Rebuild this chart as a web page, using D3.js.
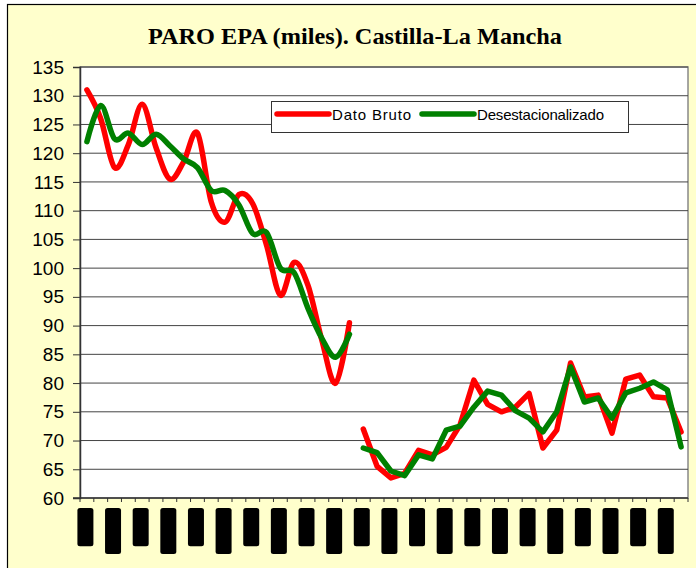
<!DOCTYPE html>
<html>
<head>
<meta charset="utf-8">
<script src="https://cdn.jsdelivr.net/npm/d3@7/dist/d3.min.js"></script>
<style>
  html, body { margin: 0; padding: 0; background: #fff; }
  svg { display: block; }
</style>
</head>
<body>
<script>
// quarters 1996-2006, labels shown every second quarter
var years = [ '96', '97', '98', '99', '00', '01', '02', '03', '04', '05', '06' ];
var quarters = [ 'I', 'II', 'III', 'IV' ];
var categories = [];
years.forEach( function( y ){
    quarters.forEach( function( q ){ categories.push( q + '-' + y ); } );
});

// old EPA series (smoothed in the original)
var brutoAntigua = [ 131, 126, 117.5, 121.5, 128.5, 121, 115.5, 118.5, 123.5, 111.5,
                     108, 112.8, 111.2, 104, 95.3, 101, 97, 87.5, 80, 90.5 ];
var desestAntigua = [ 122, 128.3, 122.5, 123.5, 121.5, 123.3, 121.3, 119, 117.5, 113.5,
                      113.5, 111, 106, 106.2, 100, 99.2, 93, 87.8, 84.5, 88.5 ];
// new EPA series
var brutoNueva = [ 72, 65.5, 63.5, 64.3, 68.3, 67.5, 68.8, 72.7, 80.5, 76.3, 75, 75.8,
                   78.2, 68.7, 71.8, 83.5, 77.6, 77.9, 71.3, 80.7, 81.4, 77.6, 77.4, 71.5 ];
var desestNueva = [ 68.7, 67.9, 64.7, 63.9, 67.5, 66.8, 71.8, 72.5, 75.8, 78.6, 77.9, 75.2,
                    73.9, 71.5, 75, 82.8, 76.7, 77.4, 73.9, 78.3, 79.1, 80.2, 78.8, 68.9 ];
var yTicks = d3.range( 60, 136, 5 );
var seriesNames = [ 'Dato Bruto', 'Desestacionalizado' ];
var seriesColors = [ '#ff0000', '#008000' ];

var width = 696, height = 568;
var plot = { left: 80, right: 688, top: 67, bottom: 498 };

var svg = d3.select( 'body' ).append( 'svg' )
    .attr( 'width', width ).attr( 'height', height );

// chart area
svg.append( 'rect' )
    .attr( 'x', 7.5 ).attr( 'y', 4.5 )
    .attr( 'width', width + 10 ).attr( 'height', height + 10 )
    .attr( 'fill', '#ffffcc' ).attr( 'stroke', '#000' ).attr( 'stroke-width', 1.2 );

svg.append( 'text' )
    .attr( 'x', 355 ).attr( 'y', 44 )
    .attr( 'text-anchor', 'middle' )
    .attr( 'font-family', '"Liberation Serif", "Times New Roman", serif' )
    .attr( 'font-weight', 'bold' ).attr( 'font-size', 24 )
    .attr( 'textLength', 414 ).attr( 'lengthAdjust', 'spacingAndGlyphs' )
    .text( 'PARO EPA (miles). Castilla-La Mancha' );

var x = d3.scaleBand().domain( categories ).range( [ plot.left, plot.right ] );
var y = d3.scaleLinear().domain( [ 60, 135 ] ).range( [ plot.bottom, plot.top ] );
var cx = function( i ){ return x( categories[i] ) + x.bandwidth() / 2; };

// plot area
svg.append( 'rect' )
    .attr( 'x', plot.left ).attr( 'y', plot.top )
    .attr( 'width', plot.right - plot.left ).attr( 'height', plot.bottom - plot.top )
    .attr( 'fill', '#fff' ).attr( 'stroke', '#888' ).attr( 'stroke-width', 1.5 );

svg.append( 'g' ).selectAll( 'line' )
    .data( yTicks.slice( 1 ) )
    .enter().append( 'line' )
    .attr( 'x1', plot.left ).attr( 'x2', plot.right )
    .attr( 'y1', function( d ){ return y( d ); } )
    .attr( 'y2', function( d ){ return y( d ); } )
    .attr( 'stroke', '#444' ).attr( 'stroke-width', 1 );

var yAxis = svg.append( 'g' )
    .attr( 'transform', 'translate(' + plot.left + ',0)' )
    .call( d3.axisLeft( y ).tickValues( yTicks ).tickSize( 7 ).tickPadding( 9 ) );
yAxis.selectAll( 'text' )
    .attr( 'font-family', '"Liberation Sans", Arial, sans-serif' )
    .attr( 'font-size', 19 ).attr( 'fill', '#000' );
yAxis.selectAll( 'line' ).attr( 'stroke', '#333' );
yAxis.select( '.domain' ).attr( 'stroke', '#333' ).attr( 'stroke-width', 1.5 );

// category axis: ticks between categories
var xTickPos = categories.map( function( c ){ return x( c ); } ).concat( [ plot.right ] );
svg.append( 'g' ).selectAll( 'line' )
    .data( xTickPos )
    .enter().append( 'line' )
    .attr( 'x1', function( d ){ return d; } ).attr( 'x2', function( d ){ return d; } )
    .attr( 'y1', plot.bottom ).attr( 'y2', plot.bottom + 4 )
    .attr( 'stroke', '#333' );
svg.append( 'line' )
    .attr( 'x1', plot.left - 7 ).attr( 'x2', plot.right )
    .attr( 'y1', plot.bottom ).attr( 'y2', plot.bottom )
    .attr( 'stroke', '#333' ).attr( 'stroke-width', 1.5 );

// rotated labels, drawn as black blocks like the original
var labelIdx = d3.range( 0, categories.length, 2 );
var labels = svg.append( 'g' ).selectAll( 'g' )
    .data( labelIdx )
    .enter().append( 'g' )
    .attr( 'transform', function( i ){ return 'translate(' + ( cx( i ) - 1.5 ) + ',508)'; } );
labels.append( 'text' )
    .attr( 'transform', 'rotate(-90)' )
    .attr( 'x', -7 ).attr( 'y', 5 )
    .attr( 'text-anchor', 'end' )
    .attr( 'font-family', '"Liberation Sans", Arial, sans-serif' )
    .attr( 'font-size', 14 ).attr( 'fill', '#000' )
    .text( function( i ){ return categories[i]; } );
labels.each( function(){
    var g = d3.select( this );
    var len = g.select( 'text' ).node().getComputedTextLength();
    g.insert( 'rect', 'text' )
        .attr( 'x', -8 ).attr( 'y', 0 )
        .attr( 'width', 16 ).attr( 'height', len + 14 )
        .attr( 'rx', 2.5 )
        .attr( 'fill', '#000' );
});

// series
var smooth = d3.line()
    .x( function( d ){ return cx( d.i ); } )
    .y( function( d ){ return y( d.v ); } )
    .curve( d3.curveCatmullRom.alpha( 0 ) );
var straight = d3.line()
    .x( function( d ){ return cx( d.i ); } )
    .y( function( d ){ return y( d.v ); } );

function pts( values, offset ){
    return values.map( function( v, k ){ return { i: k + offset, v: v }; } );
}

var lines = [
    { data: pts( brutoAntigua, 0 ), gen: smooth, color: seriesColors[0] },
    { data: pts( desestAntigua, 0 ), gen: smooth, color: seriesColors[1] },
    { data: pts( brutoNueva, brutoAntigua.length ), gen: straight, color: seriesColors[0] },
    { data: pts( desestNueva, brutoAntigua.length ), gen: straight, color: seriesColors[1] }
];
svg.append( 'g' ).selectAll( 'path' )
    .data( lines )
    .enter().append( 'path' )
    .attr( 'd', function( d ){ return d.gen( d.data ); } )
    .attr( 'fill', 'none' )
    .attr( 'stroke', function( d ){ return d.color; } )
    .attr( 'stroke-width', 5.5 )
    .attr( 'stroke-linejoin', 'round' )
    .attr( 'stroke-linecap', 'round' );

// legend
var legend = svg.append( 'g' );
legend.append( 'rect' )
    .attr( 'x', 271.5 ).attr( 'y', 101.5 ).attr( 'width', 357 ).attr( 'height', 31 )
    .attr( 'fill', '#fff' ).attr( 'stroke', '#333' ).attr( 'stroke-width', 1 );
var legendX = [ 277, 422 ];
var legendLen = [ 79, 127 ];
seriesNames.forEach( function( name, k ){
    legend.append( 'line' )
        .attr( 'x1', legendX[k] ).attr( 'x2', legendX[k] + 52 )
        .attr( 'y1', 114 ).attr( 'y2', 114 )
        .attr( 'stroke', seriesColors[k] ).attr( 'stroke-width', 5.5 )
        .attr( 'stroke-linecap', 'round' );
    legend.append( 'text' )
        .attr( 'x', legendX[k] + 55 ).attr( 'y', 120 )
        .attr( 'font-family', '"Liberation Sans", Arial, sans-serif' )
        .attr( 'font-size', 15 )
        .attr( 'textLength', legendLen[k] ).attr( 'lengthAdjust', 'spacing' )
        .text( name );
});
</script>
</body>
</html>
